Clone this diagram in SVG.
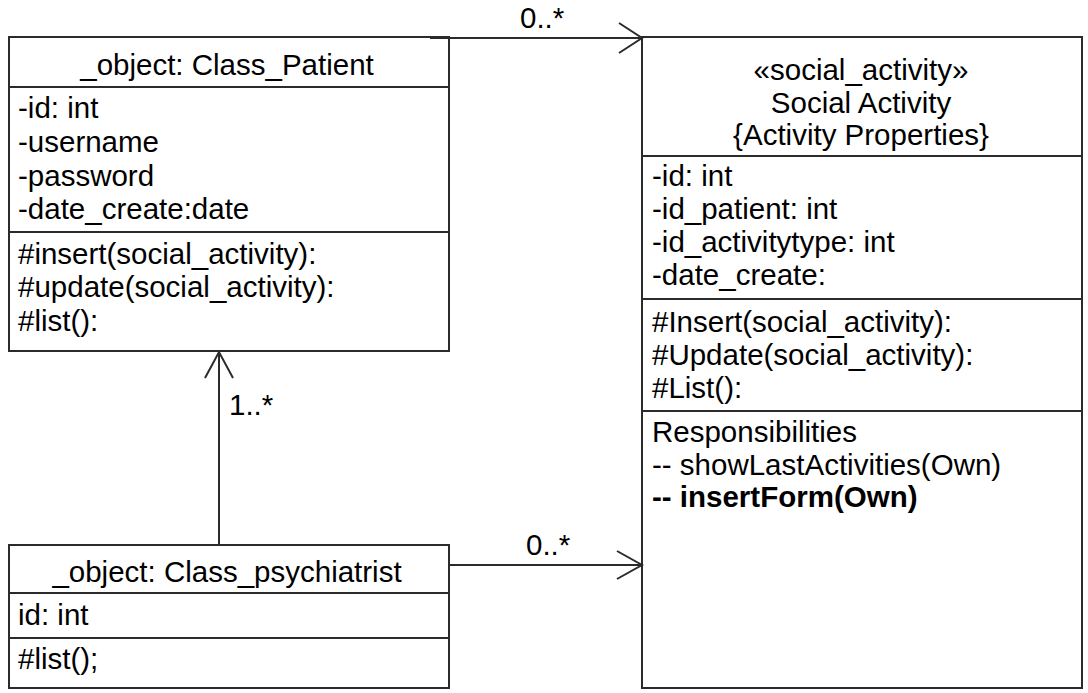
<svg xmlns="http://www.w3.org/2000/svg" width="1088" height="693" viewBox="0 0 1088 693">
  <style>
    .box { fill: #ffffff; stroke: #2b2b2b; stroke-width: 2; }
    .sep { stroke: #2b2b2b; stroke-width: 2; }
    .edge { fill: none; stroke: #2b2b2b; stroke-width: 2; }
    text { font-family: "Liberation Sans", Arial, sans-serif; font-size: 29.5px; fill: #000000; }
    .title { text-anchor: middle; }
    .bold { font-weight: bold; }
  </style>

  <rect width="1088" height="693" fill="#ffffff"/>

  <!-- Class_Patient -->
  <g id="patient">
    <rect class="box" x="9" y="37" width="440" height="314"/>
    <line class="sep" x1="9" y1="87" x2="449" y2="87"/>
    <line class="sep" x1="9" y1="232" x2="449" y2="232"/>
    <text class="title" x="227" y="75">_object: Class_Patient</text>
    <text x="18" y="118">-id: int</text>
    <text x="18" y="152">-username</text>
    <text x="18" y="186">-password</text>
    <text x="18" y="219">-date_create:date</text>
    <text x="18" y="264">#insert(social_activity):</text>
    <text x="18" y="297">#update(social_activity):</text>
    <text x="18" y="331">#list():</text>
  </g>

  <!-- Social Activity -->
  <g id="social-activity">
    <rect class="box" x="642" y="37" width="440" height="651"/>
    <line class="sep" x1="642" y1="156" x2="1082" y2="156"/>
    <line class="sep" x1="642" y1="299" x2="1082" y2="299"/>
    <line class="sep" x1="642" y1="411" x2="1082" y2="411"/>
    <text class="title" x="861" y="80">«social_activity»</text>
    <text class="title" x="861" y="113">Social Activity</text>
    <text class="title" x="861" y="145">{Activity Properties}</text>
    <text x="652" y="186">-id: int</text>
    <text x="652" y="219">-id_patient: int</text>
    <text x="652" y="252">-id_activitytype: int</text>
    <text x="652" y="285">-date_create:</text>
    <text x="652" y="332">#Insert(social_activity):</text>
    <text x="652" y="365">#Update(social_activity):</text>
    <text x="652" y="398">#List():</text>
    <text x="652" y="442">Responsibilities</text>
    <text x="652" y="475">-- showLastActivities(Own)</text>
    <text class="bold" x="652" y="507">-- insertForm(Own)</text>
  </g>

  <!-- Class_psychiatrist -->
  <g id="psychiatrist">
    <rect class="box" x="9" y="545" width="440" height="143"/>
    <line class="sep" x1="9" y1="593" x2="449" y2="593"/>
    <line class="sep" x1="9" y1="638" x2="449" y2="638"/>
    <text class="title" x="227" y="582">_object: Class_psychiatrist</text>
    <text x="18" y="625">id: int</text>
    <text x="18" y="669">#list();</text>
  </g>

  <!-- associations -->
  <g id="connectors">
    <!-- Patient -> Social Activity -->
    <line class="edge" x1="430" y1="38" x2="642" y2="38"/>
    <polyline class="edge" points="619,23 642,38 619,53"/>
    <text x="520" y="28">0..*</text>

    <!-- psychiatrist -> Patient -->
    <line class="edge" x1="219" y1="545" x2="219" y2="352"/>
    <polyline class="edge" points="205,378 219,352 233,378"/>
    <text x="229" y="415">1..*</text>

    <!-- psychiatrist -> Social Activity -->
    <line class="edge" x1="449" y1="565" x2="642" y2="565"/>
    <polyline class="edge" points="617,551 642,565 617,579"/>
    <text x="526" y="555">0..*</text>
  </g>
</svg>
